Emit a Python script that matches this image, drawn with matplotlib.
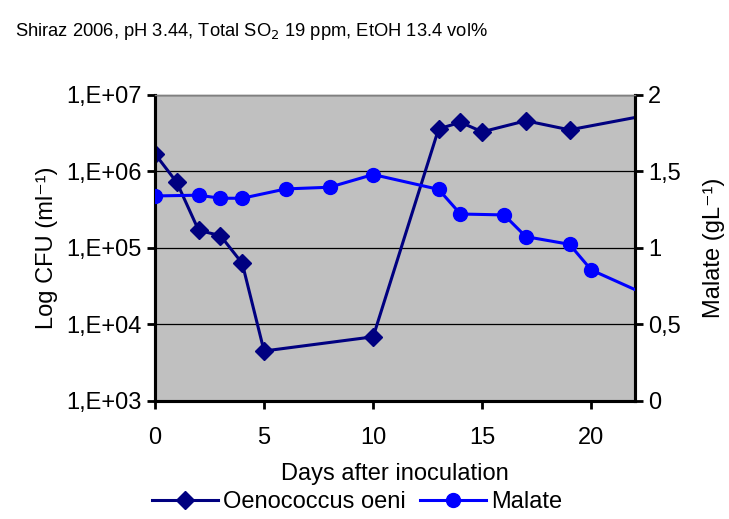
import matplotlib
matplotlib.use("Agg")
import matplotlib.pyplot as plt
from matplotlib.ticker import FixedLocator, FixedFormatter

plt.rcParams['font.family'] = ['Liberation Sans', 'DejaVu Sans']

# data
days_oeni = [0, 1, 2, 3, 4, 5, 10, 13, 14, 15, 17, 19, 24]
cfu_oeni = [1.7e6, 7.2e5, 1.7e5, 1.45e5, 6.3e4, 4.5e3, 6.9e3,
            3.6e6, 4.4e6, 3.3e6, 4.6e6, 3.5e6, 6.5e6]
days_malate = [0, 2, 3, 4, 6, 8, 10, 13, 14, 16, 17, 19, 20, 24]
malate = [1.34, 1.345, 1.325, 1.325, 1.386, 1.397, 1.48,
          1.383, 1.222, 1.216, 1.074, 1.024, 0.856, 0.60]
left_ticks = [1e3, 1e4, 1e5, 1e6, 1e7]
left_labels = ["1,E+03", "1,E+04", "1,E+05", "1,E+06", "1,E+07"]
right_ticks = [0, 0.5, 1, 1.5, 2]
right_labels = ["0", "0,5", "1", "1,5", "2"]

navy = "#000080"
blue = "#0000FF"
fs = 17

fig = plt.figure(figsize=(7.29, 5.19), dpi=100)
ax = fig.add_axes([0.2126, 0.2274, 0.6584, 0.5896])
ax.set_facecolor("#C0C0C0")
ax2 = ax.twinx()

l1, = ax.plot(days_oeni, cfu_oeni, color=navy, lw=2.2, marker="D",
              markersize=9, label="Oenococcus oeni", zorder=3)
l2, = ax2.plot(days_malate, malate, color=blue, lw=2.2, marker="o",
               markersize=10, label="Malate", zorder=3)

ax.set_yscale("log")
ax.set_ylim(1e3, 1e7)
ax.set_xlim(0, 22)
ax2.set_ylim(0, 2)
ax.yaxis.set_major_locator(FixedLocator(left_ticks))
ax.yaxis.set_major_formatter(FixedFormatter(left_labels))
ax.yaxis.set_minor_locator(FixedLocator([]))
ax.set_xticks([0, 5, 10, 15, 20])
ax2.set_yticks(right_ticks)
ax2.set_yticklabels(right_labels)

ax.grid(axis="y", color="black", lw=0.9)

for a in (ax, ax2):
    a.tick_params(labelsize=fs, width=2, length=6, direction="out")
    a.spines["top"].set_color("#808080")
    a.spines["top"].set_linewidth(1)
    for s in ("left", "bottom", "right"):
        a.spines[s].set_linewidth(2.2)
ax.tick_params(axis="x", pad=13)

ax.set_xlabel("Days after inoculation", fontsize=fs, labelpad=10)
ax.set_ylabel("Log CFU (ml⁻¹)", fontsize=fs, labelpad=6)
ax2.set_ylabel("Malate (gL⁻¹)", fontsize=fs, labelpad=16)

fig.text(0.02, 0.94, "Shiraz 2006, pH 3.44, Total SO$_2$ 19 ppm, EtOH 13.4 vol%",
         fontsize=13.2, va="center")

fig.legend(handles=[l1, l2], loc="center", bbox_to_anchor=(0.49, 0.033),
           ncol=2, frameon=False, fontsize=fs, handlelength=2.8,
           columnspacing=0.6, handletextpad=0.2)

fig.savefig("out.png", dpi=100)
